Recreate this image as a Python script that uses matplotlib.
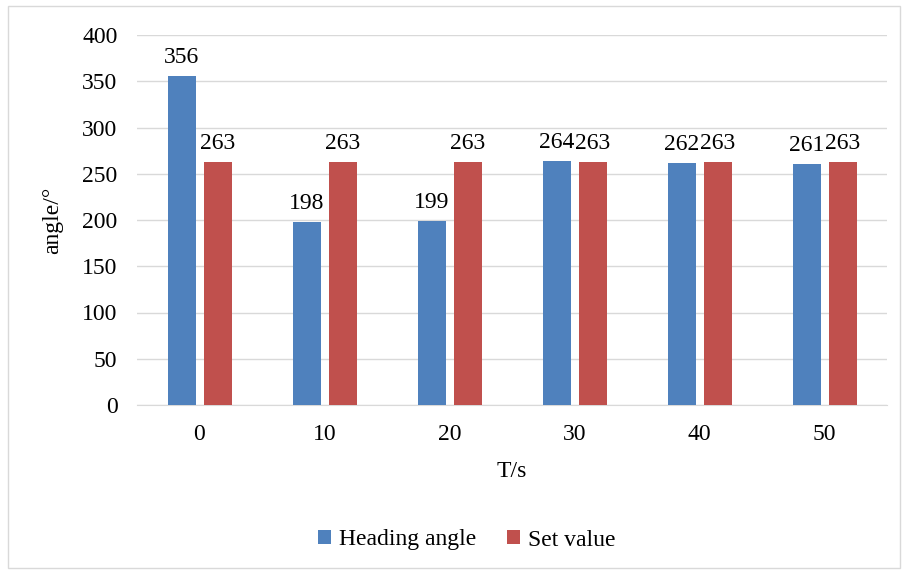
import matplotlib
matplotlib.use("Agg")
import matplotlib.pyplot as plt
import numpy as np
from matplotlib.patches import Rectangle

categories = ["0", "10", "20", "30", "40", "50"]
heading_angle = [356, 198, 199, 264, 262, 261]
set_value = [263, 263, 263, 263, 263, 263]
series_names = ["Heading angle", "Set value"]
y_ticks = [0, 50, 100, 150, 200, 250, 300, 350, 400]

plt.rcParams["font.family"] = ["Liberation Serif", "DejaVu Serif"]
FS = 17

W, H = 909, 571
fig = plt.figure(figsize=(W / 100, H / 100), dpi=100)
ax = fig.add_axes([137 / W, 1 - 405 / H, 750 / W, 370 / H])

# outer chart border
fig.patches.append(Rectangle((8 / W, 1 - 568 / H), 892 / W, 562 / H,
                             transform=fig.transFigure, fill=False,
                             edgecolor="#D9D9D9", linewidth=1.0))

x = np.arange(len(categories))
bw = 0.224
off = 0.144
blue, red = "#4F81BD", "#C0504D"
b1 = ax.bar(x - off, heading_angle, bw, color=blue, label=series_names[0], zorder=3)
b2 = ax.bar(x + off, set_value, bw, color=red, label=series_names[1], zorder=3)

for bars, vals in ((b1, heading_angle), (b2, set_value)):
    for rect, v in zip(bars, vals):
        ax.annotate(str(v), (rect.get_x() + rect.get_width() / 2, v),
                    xytext=(0, 5.5), textcoords="offset points",
                    ha="center", va="bottom", fontsize=FS)

ax.set_xlim(-0.5, len(categories) - 0.5)
ax.set_ylim(0, 400)
ax.set_yticks(y_ticks)
ax.set_xticks(x)
ax.set_xticklabels(categories)
ax.tick_params(axis="both", length=0, labelsize=FS)
ax.tick_params(axis="x", pad=14)
ax.tick_params(axis="y", pad=14)
ax.grid(axis="y", color="#D9D9D9", linewidth=1.0, zorder=0)
for s in ("top", "right", "left"):
    ax.spines[s].set_visible(False)
ax.spines["bottom"].set_color("#D9D9D9")
ax.set_axisbelow(True)

ax.set_xlabel("T/s", fontsize=FS, labelpad=11)
ax.set_ylabel("angle/°", fontsize=FS, labelpad=14)

fig.legend(handles=[b1, b2], labels=series_names, loc="center",
           bbox_to_anchor=(467 / W, 1 - 540 / H), ncol=2, frameon=False,
           fontsize=FS, handlelength=0.55, handleheight=0.55,
           handletextpad=0.35, columnspacing=1.3)

fig.savefig("out.png", dpi=100)
